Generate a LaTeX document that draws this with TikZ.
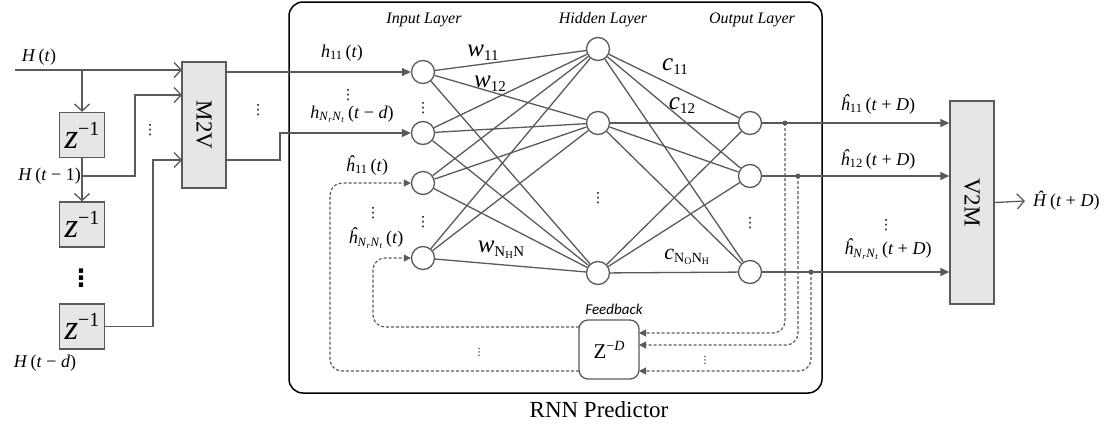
\documentclass[tikz,border=0pt]{standalone}
\usepackage{fontspec}
\setmainfont{Liberation Serif}
\newfontfamily\fbfont{Carlito}
\newfontfamily\dvfont{DejaVu Sans}
\usetikzlibrary{arrows.meta}
\definecolor{gry}{RGB}{90,90,90}
\definecolor{boxfill}{RGB}{230,230,230}
\newcommand{\ti}[1]{\textit{#1}}
\newcommand{\fs}[1]{\fontsize{#1}{#1}\selectfont}
\newcommand{\vd}{{\dvfont ⋮}}
\newcommand{\NrNt}{\ti{N}\textsubscript{\ti{r}}\ti{N}\textsubscript{\ti{t}}}
\newcommand{\wc}[2]{{\fs{25}\itshape #1}\raisebox{-4pt}{\fs{15}#2}}
\newcommand{\zinv}{{\fs{35}\itshape z}\raisebox{13pt}{\fs{20}−1}}
\tikzset{
  gl/.style={draw=gry, line width=1.3pt},
  arr/.style={-{Triangle[length=9pt,width=8pt]}},
  chev/.style={-{Straight Barb[length=7pt,width=15pt]}},
  dsh/.style={draw=gry, line width=1.2pt, dash pattern=on 3pt off 2pt,
              -{Triangle[length=7pt,width=7pt]}},
  gbox/.style={draw=gry, fill=boxfill, line width=1.3pt, inner sep=0pt},
  neuron/.style={circle, draw=gry, fill=white, line width=1.3pt,
                 minimum size=23pt, inner sep=0pt},
  lbl/.style={inner sep=0pt, font=\fs{18}},
  layer/.style={inner sep=0pt, font=\fs{16}\itshape},
  dts/.style={inner sep=0pt, font=\fs{14}},
  tap/.style={fill=gry, circle, inner sep=0pt, minimum size=5pt}
}
\begin{document}
\begin{tikzpicture}[x=1pt,y=-1pt]
\useasboundingbox (0,0) rectangle (1117,437);

% ---------- delay line and M2V ----------
\node[gbox, minimum width=44pt, minimum height=126pt] (m2v) at (204,125) {};
\node[rotate=-90, font=\fs{23}] (m2vt) at (m2v) {M2V};
\node[gbox, minimum size=45pt] (z1) at (82,135) {};
\node[gbox, minimum size=45pt] (z2) at (82,224.5) {};
\node[gbox, minimum size=45pt] (z3) at (82,326.5) {};
\node (z1t) at (z1) {\zinv};
\node (z2t) at (z2) {\zinv};
\node (z3t) at (z3) {\zinv};

\coordinate (hin) at (15,70);
\coordinate (br1) at (82,70);
\coordinate (br2) at (82,176);
\coordinate (m2vin1) at (182,70);
\coordinate (m2vin2) at (182,95);
\coordinate (m2vin3) at (182,160);
\draw[gl,chev] (hin) -- (m2vin1);
\draw[gl,chev] (br1) -- (z1.north);
\draw[gl,chev] (z1.south) -- (z2.north);
\draw[gl,chev] (br2) -| (135,95) -- (m2vin2);
\draw[gl,chev] (z3.east) -| (153,160) -- (m2vin3);

\node[lbl] (lht) at (39,57) {\ti{H}\,(\ti{t})};
\node[lbl, anchor=east] (lht1) at (81,176) {\ti{H}\,(\ti{t} − 1)};
\node[lbl] (lhtd) at (45,363) {\ti{H}\,(\ti{t} − \ti{d})};
\node[dts, font=\fs{24}\bfseries] (dz) at (81,278) {\vd};
\node[dts] (dm) at (150,130) {\vd};

% ---------- RNN predictor ----------
\node[draw, line width=1.5pt, rounded corners=14pt, minimum width=533pt,
      minimum height=391pt, inner sep=0pt] (rnn) at (555.5,197.5) {};
\node[font=\fs{23}] (rnnt) at (599,410) {RNN Predictor};
\node[layer] (lin) at (424,20) {Input Layer};
\node[layer] (lhid) at (603,20) {Hidden Layer};
\node[layer] (lout) at (752,20) {Output Layer};

\node[neuron] (n1) at (423,72) {};
\node[neuron] (n2) at (423,133) {};
\node[neuron] (n3) at (423,183) {};
\node[neuron] (n4) at (423,258) {};
\node[neuron] (h1) at (598,49) {};
\node[neuron] (h2) at (598,123) {};
\node[neuron] (h3) at (598,273) {};
\node[neuron] (o1) at (750,123) {};
\node[neuron] (o2) at (750,176) {};
\node[neuron] (o3) at (750,272) {};

\foreach \i in {n1,n2,n3,n4}
  \foreach \j in {h1,h2,h3}
    \draw[gl] (\i) -- (\j);
\foreach \i in {h1,h2,h3}
  \foreach \j in {o1,o2,o3}
    \draw[gl] (\i) -- (\j);

\node[dts] (dn1) at (423,108) {\vd};
\node[dts] (dn2) at (423,222) {\vd};
\node[dts] (dh) at (598,198) {\vd};
\node[dts] (do) at (750,223) {\vd};

\node[inner sep=0pt] (w11) at (483,53) {\wc{w}{11}};
\node[inner sep=0pt] (w12) at (490,84) {\wc{w}{12}};
\node[inner sep=0pt] (wnh) at (501,250) {\wc{w}{N\textsubscript{H}N}};
\node[inner sep=0pt] (c11) at (675,67) {\wc{c}{11}};
\node[inner sep=0pt] (c12) at (682,106) {\wc{c}{12}};
\node[inner sep=0pt] (cno) at (687,257) {{\fs{22}\itshape c}\raisebox{-3pt}{\fs{14}N\textsubscript{O}N\textsubscript{H}}};

% inputs from M2V
\coordinate (m2vo1) at (226,72);
\coordinate (m2vo2) at (226,160);
\draw[gl,arr] (m2vo1) -- (n1.west);
\draw[gl,arr] (m2vo2) -| (280,133) -- (n2.west);
\node[dts] (dmo) at (258,110) {\vd};
\node[lbl] (lh11) at (342,53) {\ti{h}\textsubscript{11}\,(\ti{t})};
\node[dts] (dl1) at (348,95) {\vd};
\node[lbl] (lhn) at (352,114) {\ti{h}\textsubscript{\NrNt}\,(\ti{t} − \ti{d})};
\node[lbl] (lhh11) at (367,165) {\ti{ĥ}\textsubscript{11}\,(\ti{t})};
\node[dts] (dl2) at (373,213) {\vd};
\node[lbl] (lhhn) at (376,238) {\ti{ĥ}\textsubscript{\NrNt}\,(\ti{t})};

% ---------- feedback ----------
\node[draw=gry, line width=1.3pt, rounded corners=9pt, minimum width=60pt,
      minimum height=59pt, inner sep=0pt] (zd) at (609,349.5) {};
\node[inner sep=0pt] (zdt) at (zd) {{\fs{21}Z}\raisebox{8pt}{\fs{14}−\ti{D}}};
\node[inner sep=0pt, font=\fbfont\itshape\fs{15}] (lfb) at (614,309) {Feedback};

\coordinate (t1) at (785,123);
\coordinate (t2) at (798,176);
\coordinate (t3) at (811,272);
\coordinate (zi1) at (639,333);
\coordinate (zi2) at (639,345);
\coordinate (zi3) at (639,371);
\coordinate (zo1) at (579,327);
\coordinate (zo2) at (579,371);
\draw[dsh, rounded corners=12pt] (t1) |- (zi1);
\draw[dsh, rounded corners=12pt] (t2) |- (zi2);
\draw[dsh, rounded corners=12pt] (t3) |- (zi3);
\draw[dsh] (zo1) [rounded corners=12pt] -| (373,258) [sharp corners] -- (n4.west);
\draw[dsh] (zo2) [rounded corners=12pt] -| (330,183) [sharp corners] -- (n3.west);
\node[dts, font=\fs{10}] (dfl) at (479,352) {\vd};
\node[dts, font=\fs{10}] (dfr) at (705,360) {\vd};

% ---------- outputs and V2M ----------
\node[gbox, minimum width=44pt, minimum height=203pt] (v2m) at (972,202.5) {};
\node[rotate=-90, font=\fs{23}] (v2mt) at (v2m) {V2M};
\draw[gl,arr] (o1.east) -- (v2m.west |- o1);
\draw[gl,arr] (o2.east) -- (v2m.west |- o2);
\draw[gl,arr] (o3.east) -- (v2m.west |- o3);
\node[tap] (tp1) at (t1) {};
\node[tap] (tp2) at (t2) {};
\node[tap] (tp3) at (t3) {};
\node[lbl] (lo1) at (878,104) {\ti{ĥ}\textsubscript{11}\,(\ti{t} + \ti{D})};
\node[lbl] (lo2) at (878,159) {\ti{ĥ}\textsubscript{12}\,(\ti{t} + \ti{D})};
\node[dts] (dro) at (886,225) {\vd};
\node[lbl] (lon) at (888,249) {\ti{ĥ}\textsubscript{\NrNt}\,(\ti{t} + \ti{D})};
\coordinate (hout) at (1025,201);
\draw[gl,chev] (v2m.east) -- (hout);
\node[lbl, anchor=west] (lH) at (1033,201) {\ti{Ĥ}\,(\ti{t} + \ti{D})};
\end{tikzpicture}
\end{document}
